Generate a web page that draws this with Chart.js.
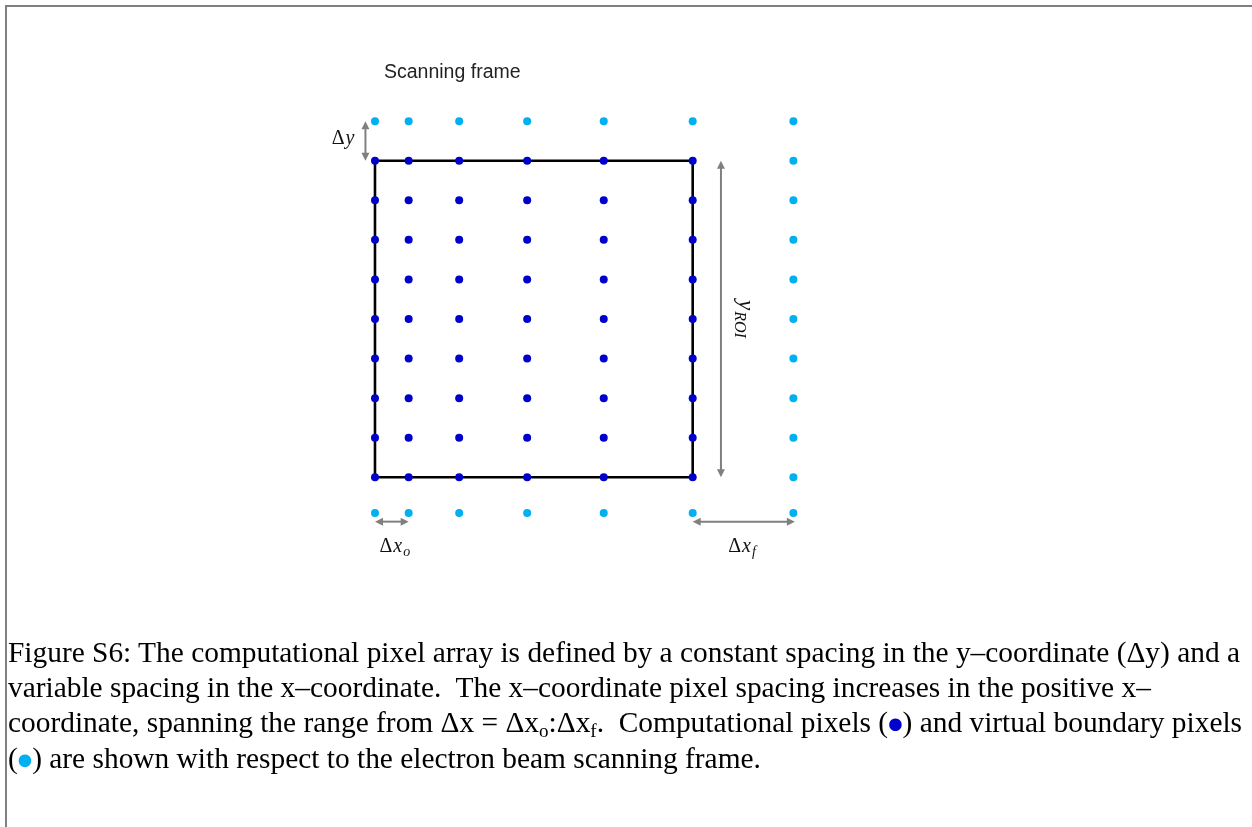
<!DOCTYPE html>
<html>
<head>
<meta charset="utf-8">
<script src="https://cdn.jsdelivr.net/npm/chart.js@4/dist/chart.umd.min.js"></script>
<style>
html,body{margin:0;padding:0;background:#fff;width:1252px;height:827px;overflow:hidden;}
#wrap{position:relative;width:1252px;height:827px;}
#frame{position:absolute;left:5px;top:5px;width:1247px;height:822px;border-top:2px solid #808080;border-left:2px solid #808080;box-sizing:border-box;}
#chart{position:absolute;left:0;top:0;}
#title{position:absolute;left:384px;top:62px;font-family:'Liberation Sans',Arial,sans-serif;font-size:19.5px;line-height:19.5px;color:#222;white-space:nowrap;}
#caption{position:absolute;left:8px;top:635px;font-family:'Liberation Serif','Times New Roman',serif;font-size:29.4px;line-height:35px;color:#000;white-space:nowrap;}
.sub{font-size:0.65em;vertical-align:-0.25em;line-height:0;}
.dot{font-family:'DejaVu Sans',sans-serif;font-size:0.56em;vertical-align:0.18em;}
</style>
</head>
<body>
<div id="wrap">
  <div id="frame"></div>
  <canvas id="chart" width="1252" height="827"></canvas>
  <div id="title">Scanning frame</div>
  <div id="caption">Figure S6: The computational pixel array is defined by a constant spacing in the y–coordinate (Δy) and a<br>variable spacing in the x–coordinate.&nbsp; The x–coordinate pixel spacing increases in the positive x–<br>coordinate, spanning the range from Δx = Δx<span class="sub">o</span>:Δx<span class="sub">f</span>.&nbsp; Computational pixels (<span class="dot" style="color:#0000CC">●</span>) and virtual boundary pixels<br>(<span class="dot" style="color:#00B0F0">●</span>) are shown with respect to the electron beam scanning frame.</div>
</div>
<script>
// ---- data (frame units: x across scanning frame 0..100, y in rows of Δy) ----
const xColumns = [0, 10.6, 26.5, 47.9, 72.0, 100];   // computational pixel columns (variable Δx)
const xBoundaryColumn = [131.7];                      // virtual boundary column on the right
const yRows = [0, 1, 2, 3, 4, 5, 6, 7, 8];            // computational pixel rows (constant Δy)
const yTopBoundary = [9.0];                           // virtual boundary row above frame
const yBottomBoundary = [-0.9];                       // virtual boundary row below frame
const frameX = [0, 100, 100, 0, 0];                   // scanning frame outline
const frameY = [0, 0, 8, 8, 0];

const DARK = '#0000CC';
const LIGHT = '#00B0F0';
const GREY = '#808080';

// build point tables from the arrays
const computational = [];
xColumns.forEach(x => yRows.forEach(y => computational.push({x, y})));
const allCols = xColumns.concat(xBoundaryColumn);
const boundary = [];
allCols.forEach(x => { yTopBoundary.forEach(y => boundary.push({x, y})); yBottomBoundary.forEach(y => boundary.push({x, y})); });
xBoundaryColumn.forEach(x => yRows.forEach(y => boundary.push({x, y})));
const frame = frameX.map((x, i) => ({x, y: frameY[i]}));

// annotation placements (data units)
const annot = {
  dyX: -3.0,
  roiX: 108.9,
  dxY: -1.12
};

function arrow(ctx, x1, y1, x2, y2) {
  const hl = 8, hw = 4;
  const ang = Math.atan2(y2 - y1, x2 - x1);
  const c = Math.cos(ang), s = Math.sin(ang);
  ctx.save();
  ctx.strokeStyle = GREY; ctx.fillStyle = GREY; ctx.lineWidth = 2;
  ctx.beginPath();
  ctx.moveTo(x1 + c * (hl - 1), y1 + s * (hl - 1));
  ctx.lineTo(x2 - c * (hl - 1), y2 - s * (hl - 1));
  ctx.stroke();
  const head = (px, py, dir) => {
    ctx.beginPath();
    ctx.moveTo(px, py);
    ctx.lineTo(px - dir * c * hl - s * hw, py - dir * s * hl + c * hw);
    ctx.lineTo(px - dir * c * hl + s * hw, py - dir * s * hl - c * hw);
    ctx.closePath();
    ctx.fill();
  };
  head(x2, y2, 1);
  head(x1, y1, -1);
  ctx.restore();
}

function mathText(ctx, parts, x, y, align, base, subSize) {
  base = base || 20; subSize = subSize || 14;
  const fontOf = p => (p.italic ? 'italic ' : '') + (p.sub ? subSize : base) + "px 'Liberation Serif', serif";
  let w = 0;
  parts.forEach(p => { ctx.font = fontOf(p); p.w = ctx.measureText(p.t).width; w += p.w + (p.gap || 0); });
  let cx = align === 'right' ? x - w : align === 'center' ? x - w / 2 : x;
  ctx.fillStyle = '#111';
  ctx.textBaseline = 'alphabetic';
  ctx.textAlign = 'left';
  parts.forEach(p => {
    ctx.font = fontOf(p);
    cx += (p.gap || 0);
    ctx.fillText(p.t, cx, y + (p.sub ? 4 : 0));
    cx += p.w;
  });
}

const annotations = {
  id: 'annotations',
  afterDatasetsDraw(chart) {
    const ctx = chart.ctx, xs = chart.scales.x, ys = chart.scales.y;
    const X = v => xs.getPixelForValue(v), Y = v => ys.getPixelForValue(v);
    const top = yRows[yRows.length - 1], bot = yRows[0];
    // Δy arrow
    arrow(ctx, X(annot.dyX), Y(yTopBoundary[0]), X(annot.dyX), Y(top));
    mathText(ctx, [{t: 'Δ'}, {t: 'y', italic: true, gap: 1}], X(annot.dyX) - 11, (Y(yTopBoundary[0]) + Y(top)) / 2 + 3, 'right');
    // y_ROI arrow
    arrow(ctx, X(annot.roiX), Y(top), X(annot.roiX), Y(bot));
    ctx.save();
    ctx.translate(X(annot.roiX) + 18, (Y(top) + Y(bot)) / 2);
    ctx.rotate(Math.PI / 2);
    mathText(ctx, [{t: 'y', italic: true}, {t: 'ROI', italic: true, sub: true, gap: 1}], 0, 0, 'center', 23, 16);
    ctx.restore();
    // Δx_o arrow
    arrow(ctx, X(xColumns[0]), Y(annot.dxY), X(xColumns[1]), Y(annot.dxY));
    mathText(ctx, [{t: 'Δ'}, {t: 'x', italic: true, gap: 1}, {t: 'o', italic: true, sub: true, gap: 1}], (X(xColumns[0]) + X(xColumns[1])) / 2 + 3, Y(annot.dxY) + 30, 'center');
    // Δx_f arrow
    const lastIn = xColumns[xColumns.length - 1];
    arrow(ctx, X(lastIn), Y(annot.dxY), X(xBoundaryColumn[0]) + 1.5, Y(annot.dxY));
    mathText(ctx, [{t: 'Δ'}, {t: 'x', italic: true, gap: 1}, {t: 'f', italic: true, sub: true, gap: 1}], (X(lastIn) + X(xBoundaryColumn[0])) / 2 - 1, Y(annot.dxY) + 30, 'center');
  }
};

new Chart(document.getElementById('chart'), {
  type: 'scatter',
  data: {
    datasets: [
      { label: 'Computational pixels', data: computational, backgroundColor: DARK, borderColor: DARK, pointRadius: 4, pointBorderWidth: 0, clip: false },
      { label: 'Virtual boundary pixels', data: boundary, backgroundColor: LIGHT, borderColor: LIGHT, pointRadius: 4, pointBorderWidth: 0, clip: false },
      { label: 'Scanning frame', type: 'line', data: frame, borderColor: '#000', borderWidth: 2.6, pointRadius: 0, fill: false, tension: 0, clip: false }
    ]
  },
  options: {
    responsive: false,
    animation: false,
    devicePixelRatio: 1,
    layout: { padding: 0, autoPadding: false },
    plugins: { legend: { display: false }, tooltip: { enabled: false }, title: { display: false } },
    scales: {
      x: { type: 'linear', display: false, min: -118.03, max: 276.05 },
      y: { type: 'linear', display: false, min: -8.836, max: 12.061 }
    }
  },
  plugins: [annotations]
});
</script>
</body>
</html>
